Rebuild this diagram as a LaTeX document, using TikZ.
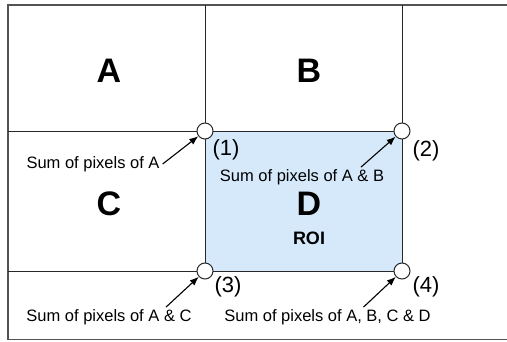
\documentclass[tikz,border=0pt]{standalone}
\usepackage{fontspec}
\setmainfont{Liberation Sans}
\usepackage{xcolor}
\usepackage{tikz}
\usetikzlibrary{arrows.meta, positioning}
\definecolor{roiblue}{RGB}{214,233,251}
\definecolor{gridgray}{RGB}{40,40,40}

\begin{document}
\begin{tikzpicture}[x=1pt, y=1pt,
      grid/.style={draw=gridgray, line width=1pt},
      letter/.style={font=\fontsize{34}{34}\selectfont\bfseries},
      lbl/.style={font=\fontsize{16.5}{18}\selectfont, inner sep=1pt},
      num/.style={font=\fontsize{22}{24}\selectfont, inner sep=1pt},
      corner/.style={circle, draw=gridgray, fill=white, line width=1pt,
                     minimum size=16pt, inner sep=0pt},
      arr/.style={-{Latex[length=9pt,width=7pt]}, line width=1.1pt, black}
    ]
    \useasboundingbox (0,0) rectangle (507,341);
    % region of interest
    \fill[roiblue] (205,70) rectangle (402,210);
    % frame and grid
    \draw[draw=gridgray!80, line width=1.6pt] (508,336) -- (8,336) -- (8,1.5) -- (508,1.5);
    \draw[grid] (8,210) -- (402,210);
    \draw[grid] (8,70) -- (402,70);
    \draw[grid] (205,336) -- (205,70);
    \draw[grid] (402,336) -- (402,70);

    \node[letter] (A) at (109,270) {A};
    \node[letter] (B) at (309,270) {B};
    \node[letter] (C) at (109,137) {C};
    \node[letter] (D) at (309,137) {D};
    \node[font=\fontsize{18}{20}\selectfont\bfseries] (roi) at (309,102.5) {ROI};

    \node[corner] (p1) at (205,210) {};
    \node[corner] (p2) at (402,210) {};
    \node[corner] (p3) at (205,70) {};
    \node[corner] (p4) at (402,70) {};

    \node[num] (n1) at (226,191) {(1)};
    \node[num] (n2) at (426,190) {(2)};
    \node[num] (n3) at (228,54) {(3)};
    \node[num] (n4) at (426,54) {(4)};

    \node[lbl] (sumA) at (93,177) {Sum of pixels of A};
    \node[lbl] (sumAB) at (302,164) {Sum of pixels of A \& B};
    \node[lbl] (sumAC) at (109,24) {Sum of pixels of A \& C};
    \node[lbl] (sumABCD) at (327.5,24) {Sum of pixels of A, B, C \& D};

    \draw[arr] ([xshift=2pt]sumA.east) -- (p1);
    \draw[arr] ([xshift=59pt,yshift=1pt]sumAB.north) -- (p2);
    \draw[arr] ([xshift=57pt,yshift=1pt]sumAC.north) -- (p3);
    \draw[arr] ([xshift=36pt,yshift=1pt]sumABCD.north) -- (p4);
  \end{tikzpicture}
\end{document}
